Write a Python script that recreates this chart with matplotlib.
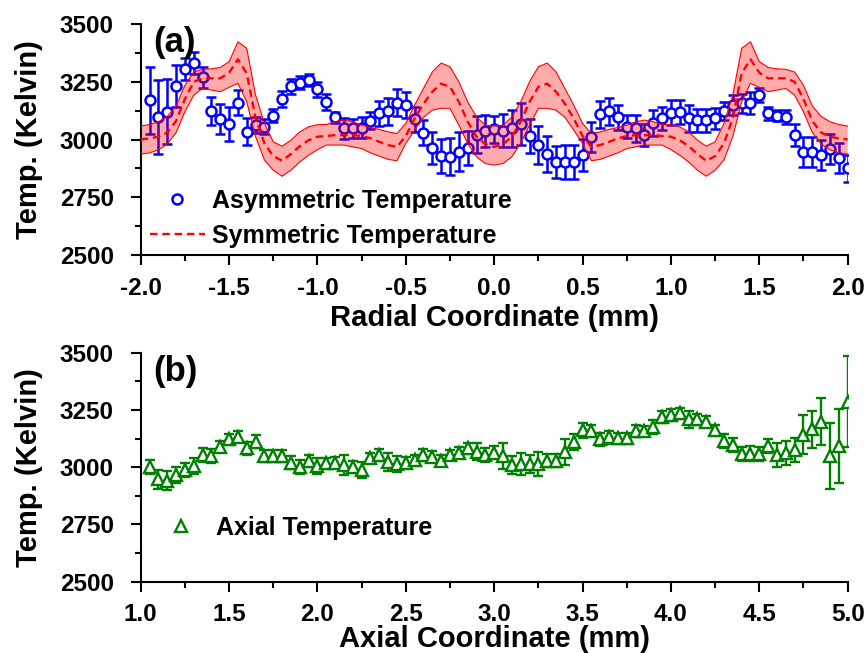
import numpy as np
import matplotlib
matplotlib.use("Agg")
import matplotlib.pyplot as plt
from matplotlib.ticker import MultipleLocator, FormatStrFormatter
from matplotlib.lines import Line2D

plt.rcParams['font.family'] = ['Liberation Sans', 'DejaVu Sans']
plt.rcParams['font.weight'] = 'bold'
plt.rcParams['axes.unicode_minus'] = False

# ---- panel (a): radial data ----
radial_x = np.round(np.arange(-1.95, 2.0001, 0.05), 2)
radial_temp = [3171, 3096, 3120, 3231, 3304, 3330, 3269, 3123, 3087, 3067,
               3159, 3033, 3062, 3055, 3103, 3175, 3231, 3246, 3257, 3217,
               3163, 3096, 3048, 3048, 3052, 3081, 3113, 3123, 3159, 3149,
               3087, 3029, 2964, 2928, 2925, 2947, 2963, 3021, 3038, 3045,
               3038, 3048, 3067, 3015, 2976, 2938, 2903, 2903, 2903, 2932,
               3012, 3109, 3123, 3096, 3055, 3048, 3019, 3072, 3091, 3116,
               3120, 3091, 3084, 3084, 3091, 3124, 3149, 3156, 3159, 3192,
               3113, 3103, 3098, 3019, 2947, 2947, 2932, 2957, 2918, 2875]
radial_err = [145, 160, 140, 90, 47, 47, 45, 61, 65, 72,
              54, 58, 35, 32, 29, 36, 32, 27, 27, 33,
              36, 25, 47, 40, 45, 36, 54, 58, 58, 55,
              54, 54, 70, 75, 80, 85, 75, 80, 70, 58,
              72, 80, 90, 75, 82, 78, 70, 72, 72, 70,
              65, 59, 58, 53, 50, 58, 47, 56, 50, 54,
              52, 58, 50, 50, 47, 40, 45, 43, 47, 29,
              29, 25, 29, 47, 65, 65, 65, 65, 65, 60]

sym_x = np.round(np.arange(-2.0, 2.0001, 0.05), 2)
sym_temp = [3000, 3005, 3012, 3030, 3080, 3175, 3250, 3265, 3265, 3265,
            3289, 3347, 3286, 3092, 2983, 2928, 2908, 2937, 2971, 2997,
            3012, 3015, 3019, 3019, 3019, 3015, 3005, 2990, 2976, 2968,
            3015, 3091, 3155, 3207, 3242, 3228, 3163, 3077, 3012, 2980,
            2968,
            2980, 3012, 3077, 3163, 3228, 3242, 3207, 3155, 3091, 3015,
            2968, 2976, 2990, 3005, 3015, 3019, 3019, 3019, 3015, 3012,
            2997, 2971, 2937, 2908, 2928, 2983, 3092, 3286, 3347, 3289,
            3265, 3265, 3265, 3250, 3175, 3080, 3030, 3012, 3005, 3000]
sym_upper = [3058, 3065, 3077, 3100, 3145, 3235, 3292, 3304, 3306, 3312,
             3337, 3423, 3395, 3192, 3070, 2990, 2971, 2997, 3033, 3055,
             3064, 3065, 3077, 3084, 3077, 3062, 3052, 3044, 3033, 3026,
             3070, 3149, 3221, 3293, 3331, 3315, 3250, 3163, 3098, 3062,
             3058,
             3062, 3098, 3163, 3250, 3315, 3331, 3293, 3221, 3149, 3070,
             3026, 3033, 3044, 3052, 3062, 3077, 3084, 3077, 3065, 3064,
             3055, 3033, 2997, 2971, 2990, 3070, 3192, 3395, 3423, 3337,
             3312, 3306, 3304, 3292, 3235, 3145, 3100, 3077, 3065, 3058]
sym_lower = [2937, 2942, 2955, 2980, 3030, 3120, 3192, 3221, 3214, 3207,
             3226, 3243, 3163, 3012, 2911, 2867, 2841, 2867, 2903, 2932,
             2956, 2976, 2976, 2976, 2968, 2961, 2942, 2928, 2914, 2908,
             2983, 3041, 3096, 3127, 3135, 3135, 3062, 2983, 2925, 2896,
             2889,
             2896, 2925, 2983, 3062, 3135, 3135, 3127, 3096, 3041, 2983,
             2908, 2914, 2928, 2942, 2961, 2968, 2976, 2976, 2976, 2956,
             2932, 2903, 2867, 2841, 2867, 2911, 3012, 3163, 3243, 3226,
             3207, 3214, 3221, 3192, 3120, 3030, 2980, 2955, 2942, 2937]

# ---- panel (b): axial data ----
axial_x = np.round(np.arange(1.05, 5.0001, 0.05), 2)
axial_temp = [3002, 2947, 2941, 2966, 2988, 3005, 3053, 3049, 3090, 3122,
              3133, 3082, 3111, 3049, 3049, 3049, 3020, 3000, 3028, 3005,
              3017, 3020, 3010, 3000, 2988, 3039, 3053, 3024, 3014, 3020,
              3031, 3053, 3046, 3028, 3053, 3063, 3082, 3068, 3053, 3064,
              3049, 3010, 3014, 3014, 3014, 3028, 3028, 3068, 3111, 3162,
              3159, 3122, 3130, 3126, 3126, 3159, 3159, 3174, 3218, 3228,
              3235, 3209, 3209, 3199, 3162, 3115, 3097, 3058, 3058, 3058,
              3092, 3053, 3063, 3075, 3141, 3165, 3199, 3049, 3092, 3286]
axial_err = [31, 41, 41, 34, 32, 33, 31, 29, 25, 24,
             24, 27, 28, 26, 26, 26, 29, 31, 25, 34,
             25, 24, 45, 25, 36, 22, 25, 40, 33, 25,
             24, 25, 24, 24, 23, 24, 24, 36, 32, 27,
             55, 40, 48, 40, 53, 29, 28, 57, 34, 33,
             27, 28, 27, 23, 23, 25, 23, 31, 27, 25,
             24, 36, 24, 23, 24, 31, 29, 31, 33, 31,
             31, 52, 53, 54, 85, 80, 102, 143, 160, 200]

fig = plt.figure(figsize=(8.67, 6.53), dpi=100)
ax1 = fig.add_axes([0.1623, 0.6095, 0.8154, 0.3537])
ax2 = fig.add_axes([0.1623, 0.1092, 0.8154, 0.3507])


def style_axis(ax):
    for side in ['top', 'right']:
        ax.spines[side].set_visible(False)
    for side in ['left', 'bottom']:
        ax.spines[side].set_linewidth(1.5)
    ax.yaxis.set_major_locator(MultipleLocator(250))
    ax.yaxis.set_minor_locator(MultipleLocator(125))
    ax.xaxis.set_major_locator(MultipleLocator(0.5))
    ax.xaxis.set_minor_locator(MultipleLocator(0.25))
    ax.xaxis.set_major_formatter(FormatStrFormatter('%.1f'))
    ax.tick_params(which='major', direction='out', length=7.5, width=1.5,
                   labelsize=17.5, pad=12)
    ax.tick_params(which='minor', direction='out', length=4, width=1.5)
    ax.tick_params(axis='x', which='major', pad=8)
    ax.set_ylim(2500, 3500)
    ax.set_ylabel('Temp. (Kelvin)', fontsize=21, fontweight='bold', labelpad=12)


# panel (a)
ax1.errorbar(radial_x, radial_temp, yerr=radial_err, fmt='o', color='#0000ff',
             mfc='white', mec='#0000ff', ms=7.2, mew=1.8, elinewidth=1.8,
             capsize=3.8, capthick=1.8, zorder=2)
ax1.fill_between(sym_x, sym_lower, sym_upper, facecolor='#ff0000', alpha=0.33,
                 edgecolor='none', zorder=3)
ax1.plot(sym_x, sym_upper, color='#ff0000', lw=0.8, zorder=3)
ax1.plot(sym_x, sym_lower, color='#ff0000', lw=0.8, zorder=3)
ax1.plot(sym_x, sym_temp, color='#ff0000', ls=(0, (3.2, 2)), lw=1.7, zorder=4)
ax1.set_xlim(-2.0, 2.0)
style_axis(ax1)
ax1.set_xlabel('Radial Coordinate (mm)', fontsize=21, fontweight='bold', labelpad=3)
ax1.text(0.018, 0.99, '(a)', transform=ax1.transAxes, fontsize=25,
         fontweight='bold', va='top', ha='left')

h1 = Line2D([], [], ls='none', marker='o', color='#0000ff', mfc='white', ms=7.2, mew=1.8)
h2 = Line2D([], [], color='#ff0000', ls=(0, (3.2, 2)), lw=1.7)
ax1.legend([h1, h2], ['Asymmetric Temperature', 'Symmetric Temperature'],
           loc='lower left', bbox_to_anchor=(-0.019, -0.065), frameon=False,
           prop={'size': 18, 'weight': 'bold'}, handlelength=2.2,
           handletextpad=0.3, labelspacing=0.43)

# panel (b)
ax2.errorbar(axial_x, axial_temp, yerr=axial_err, fmt='^', color='#008000',
             mfc='white', mec='#008000', ms=8, mew=1.7, elinewidth=1.7,
             capsize=3.8, capthick=1.7, zorder=2)
ax2.set_xlim(1.0, 5.0)
style_axis(ax2)
ax2.set_xlabel('Axial Coordinate (mm)', fontsize=21, fontweight='bold', labelpad=-1)
ax2.text(0.018, 0.99, '(b)', transform=ax2.transAxes, fontsize=25,
         fontweight='bold', va='top', ha='left')
h3 = Line2D([], [], ls='none', marker='^', color='#008000', mfc='white', ms=8, mew=1.7)
ax2.legend([h3], ['Axial Temperature'], loc='lower left',
           bbox_to_anchor=(-0.0135, 0.083), frameon=False,
           prop={'size': 18, 'weight': 'bold'}, handlelength=2.2,
           handletextpad=0.3)

fig.savefig('out.png', dpi=100)
